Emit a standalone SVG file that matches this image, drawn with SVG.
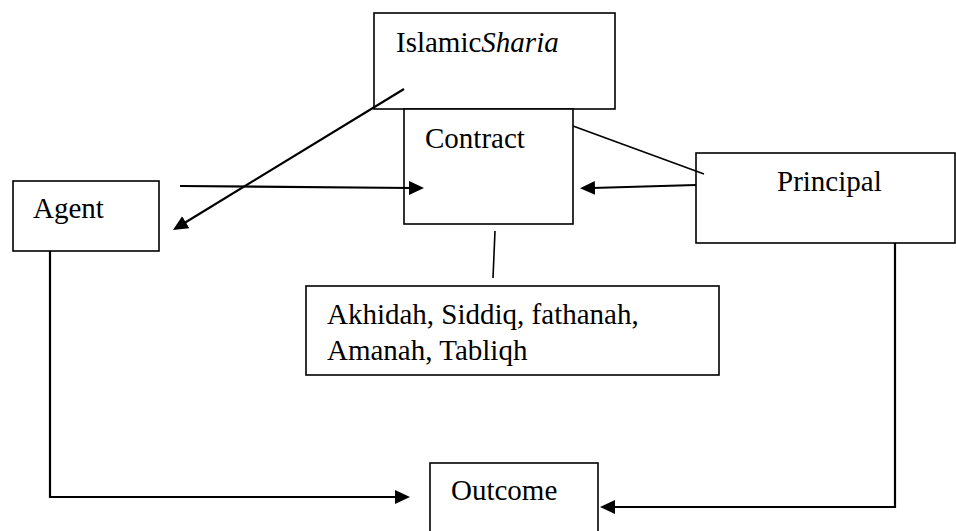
<svg xmlns="http://www.w3.org/2000/svg" width="956" height="531" viewBox="0 0 956 531">
<style>
.box{fill:#fff;stroke:#000;stroke-width:1.6}
.t{font-family:"Liberation Serif","Times New Roman",serif;font-size:29px;fill:#000}
.ln{fill:none;stroke:#000;stroke-width:1.6}
.ar{fill:none;stroke:#000;stroke-width:2.2;marker-end:url(#ah)}
</style>
<defs>
<marker id="ah" markerUnits="userSpaceOnUse" markerWidth="16" markerHeight="15" refX="3" refY="7" orient="auto">
<path d="M0,0 L15,7 L0,14 z" fill="#000"/>
</marker>
</defs>
<rect width="956" height="531" fill="#fff"/>
<g id="islamic-sharia">
<rect class="box" x="374" y="13" width="241" height="96"/>
<text class="t" x="396" y="52">Islamic<tspan font-style="italic">Sharia</tspan></text>
</g>
<g id="contract">
<rect class="box" x="404" y="109" width="169" height="115"/>
<text class="t" x="425" y="148">Contract</text>
</g>
<g id="agent">
<rect class="box" x="13" y="181" width="146" height="70"/>
<text class="t" x="33" y="218">Agent</text>
</g>
<g id="principal">
<rect class="box" x="696" y="153" width="259" height="90"/>
<text class="t" x="777" y="191">Principal</text>
</g>
<g id="values">
<rect class="box" x="306" y="286" width="413" height="89"/>
<text class="t" x="327" y="324">Akhidah, Siddiq, fathanah,</text>
<text class="t" x="327" y="360">Amanah, Tabliqh</text>
</g>
<g id="outcome">
<rect class="box" x="430" y="463" width="168" height="80"/>
<text class="t" x="451" y="500">Outcome</text>
</g>
<g id="connectors">
<line class="ln" x1="573" y1="126" x2="704" y2="174"/>
<line class="ln" x1="495" y1="231" x2="493" y2="278"/>
<line class="ar" x1="404" y1="89" x2="183.2" y2="223.7"/>
<line class="ar" x1="180" y1="186" x2="412" y2="188"/>
<line class="ar" x1="696" y1="185" x2="592" y2="188"/>
<polyline class="ar" points="50,251 50,497 398,497"/>
<polyline class="ar" points="895,243 895,507 612,507"/>
</g>
</svg>
